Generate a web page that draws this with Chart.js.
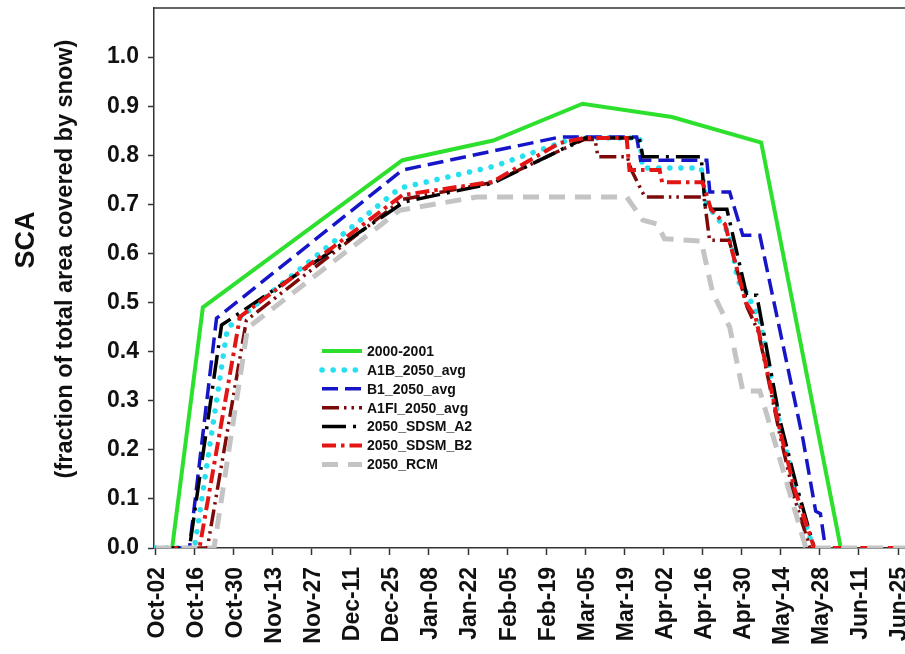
<!DOCTYPE html>
<html>
<head>
<meta charset="utf-8">
<script src="https://cdn.jsdelivr.net/npm/chart.js@4.4.1/dist/chart.umd.min.js"></script>
<style>
html,body{margin:0;padding:0;background:#fff;}
#wrap{width:905px;height:654px;position:relative;}
</style>
</head>
<body>
<div id="wrap"><canvas id="c"></canvas></div>
<script>
// ---- tick labels (x: every 14 days starting Oct-02) ----
const tickLabels = ['Oct-02','Oct-16','Oct-30','Nov-13','Nov-27','Dec-11','Dec-25','Jan-08','Jan-22','Feb-05',
  'Feb-19','Mar-05','Mar-19','Apr-02','Apr-16','Apr-30','May-14','May-28','Jun-11','Jun-25'];
const yTickValues = [0,0.1,0.2,0.3,0.4,0.5,0.6,0.7,0.8,0.9,1.0];
const yTitle = 'SCA';
const ySubTitle = '(fraction of total area covered by snow)';

// ---- series (x = days since Oct-02, y = snow covered area fraction) ----
const seriesNames = ['2000-2001','A1B_2050_avg','B1_2050_avg','A1FI_2050_avg','2050_SDSM_A2','2050_SDSM_B2','2050_RCM'];

const obsDays = [0, 6, 17, 88.5, 121, 153, 185, 217, 245.5];
const obsSCA  = [0, 0, 0.49, 0.79, 0.83, 0.905, 0.878, 0.826, 0];

const a1bDays = [0, 14, 25.8, 87.5, 121, 150, 173.5, 174.5, 195.5, 197.5, 205.7, 208.6, 211.8, 216.5, 223.7, 229, 235.5];
const a1bSCA  = [0, 0, 0.448, 0.733, 0.777, 0.835, 0.835, 0.774, 0.774, 0.70, 0.64, 0.545, 0.52, 0.464, 0.25, 0.13, 0];

const b1Days = [0, 12.2, 21.9, 88.5, 144.8, 172.4, 173.8, 197.5, 198.6, 205.7, 210.4, 216.5, 232, 236.5, 238.2, 240];
const b1SCA  = [0, 0, 0.468, 0.77, 0.837, 0.837, 0.79, 0.79, 0.725, 0.725, 0.637, 0.637, 0.22, 0.075, 0.07, 0];

const a1fiDays = [0, 18.6, 32.6, 88.5, 121, 145, 153.5, 157.5, 158.5, 169, 170.5, 175.3, 196.5, 198.5, 205.5, 212, 216, 223.7, 229, 234.5];
const a1fiSCA  = [0, 0, 0.464, 0.71, 0.745, 0.81, 0.832, 0.832, 0.797, 0.797, 0.77, 0.715, 0.715, 0.627, 0.627, 0.49, 0.44, 0.23, 0.10, 0];

const sdsmA2Days = [0, 12.2, 23.7, 89.2, 120.8, 144.8, 153.8, 173.3, 174.6, 195.5, 197, 204.7, 211.8, 215.4, 223.7, 229.5, 236];
const sdsmA2SCA  = [0, 0, 0.454, 0.705, 0.743, 0.81, 0.835, 0.835, 0.797, 0.797, 0.69, 0.69, 0.515, 0.515, 0.26, 0.13, 0];

const sdsmB2Days = [0, 15.8, 30.3, 88.5, 120.8, 144.8, 153.5, 168.8, 169.8, 180.6, 181.5, 196, 199, 204, 211.5, 215, 223.7, 229, 236, 268.5];
const sdsmB2SCA  = [0, 0, 0.471, 0.719, 0.746, 0.825, 0.835, 0.835, 0.77, 0.77, 0.745, 0.745, 0.69, 0.66, 0.50, 0.47, 0.24, 0.12, 0, 0];

const rcmDays = [0, 21, 33, 87.5, 115, 168.8, 174.6, 179.6, 182.4, 195.5, 199.6, 205.7, 210.4, 216.5, 233, 268.5];
const rcmSCA  = [0, 0, 0.448, 0.688, 0.715, 0.715, 0.668, 0.66, 0.63, 0.625, 0.52, 0.45, 0.32, 0.32, 0, 0];

const seriesDays = [obsDays, a1bDays, b1Days, a1fiDays, sdsmA2Days, sdsmB2Days, rcmDays];
const seriesSCA  = [obsSCA, a1bSCA, b1SCA, a1fiSCA, sdsmA2SCA, sdsmB2SCA, rcmSCA];

// ---- styles ----
const styles = [
  {color:'#2ee02e', width:4,   dash:[],               cap:'butt'},
  {color:'#25e0ee', width:5.5, dash:[0.1, 11],        cap:'round'},
  {color:'#1616c8', width:3.5, dash:[16, 7],          cap:'butt'},
  {color:'#7d0a0a', width:3.5, dash:[17,5,2.5,5,2.5,5], cap:'butt'},
  {color:'#000000', width:3.5, dash:[24,7,3,7],       cap:'butt'},
  {color:'#e31515', width:4,   dash:[14,5,3.5,5],     cap:'butt'},
  {color:'#c4c4c4', width:5,   dash:[16,10],          cap:'butt'}
];

const FONT = '"Liberation Sans", Arial, Helvetica, sans-serif';

const datasets = seriesNames.map((name, i) => ({
  label: name,
  data: seriesDays[i].map((d, k) => ({x: d, y: seriesSCA[i][k]})),
  borderColor: styles[i].color,
  backgroundColor: styles[i].color,
  borderWidth: styles[i].width,
  borderDash: styles[i].dash,
  borderCapStyle: styles[i].cap,
  borderJoinStyle: 'miter',
  pointRadius: 0,
  tension: 0,
  fill: false,
  order: -i
}));

const decor = {
  id: 'decor',
  afterDraw(chart) {
    const ctx = chart.ctx, a = chart.chartArea;
    ctx.save();
    // top frame line
    ctx.strokeStyle = '#333'; ctx.lineWidth = 1.5; ctx.setLineDash([]);
    ctx.beginPath(); ctx.moveTo(a.left, a.top); ctx.lineTo(a.right, a.top); ctx.stroke();
    // y titles
    ctx.fillStyle = '#111'; ctx.textAlign = 'center'; ctx.textBaseline = 'middle';
    ctx.save();
    ctx.translate(27, 240); ctx.rotate(-Math.PI/2);
    ctx.font = 'bold 27px ' + FONT; ctx.fillText(yTitle, 0, 0);
    ctx.restore();
    ctx.save();
    ctx.translate(66, 259); ctx.rotate(-Math.PI/2);
    ctx.font = 'bold 23.5px ' + FONT; ctx.fillText(ySubTitle, 0, 0);
    ctx.restore();
    // legend
    const lx = 322, ly = 351, len = 40, gap = 18.9;
    ctx.textAlign = 'left'; ctx.textBaseline = 'middle';
    ctx.font = 'bold 14px ' + FONT;
    chart.data.datasets.forEach((ds, i) => {
      const y = ly + i * gap;
      ctx.strokeStyle = ds.borderColor; ctx.lineWidth = ds.borderWidth;
      ctx.lineCap = ds.borderCapStyle; ctx.setLineDash(ds.borderDash);
      ctx.beginPath(); ctx.moveTo(lx, y); ctx.lineTo(lx + len, y); ctx.stroke();
      ctx.setLineDash([]);
      ctx.fillStyle = '#111';
      ctx.fillText(ds.label, lx + len + 5, y + 1);
    });
    ctx.restore();
  }
};

new Chart(document.getElementById('c'), {
  type: 'line',
  data: { datasets },
  options: {
    responsive: true, maintainAspectRatio: false, animation: false, devicePixelRatio: 1,
    layout: { padding: { top: 8, right: 0, left: 0, bottom: 0 } },
    plugins: { legend: { display: false }, tooltip: { enabled: false } },
    scales: {
      x: {
        type: 'linear', min: -0.5, max: 268.5,
        afterBuildTicks: ax => { ax.ticks = tickLabels.map((_, i) => ({value: i * 14})); },
        afterFit: ax => { ax.height = 106; ax.paddingLeft = 0; ax.paddingRight = 0; },
        ticks: { autoSkip: false, maxRotation: 90, minRotation: 90, padding: 12, labelOffset: 2, color: '#111',
          font: { family: FONT, size: 23, weight: 'bold' },
          callback: (v, i) => tickLabels[i] },
        grid: { drawOnChartArea: false, drawTicks: true, tickLength: 7, tickColor: '#333', tickWidth: 1.5 },
        border: { display: true, color: '#333', width: 1.5 }
      },
      y: {
        type: 'linear', min: 0, max: 1.1,
        afterBuildTicks: ax => { ax.ticks = yTickValues.map(v => ({value: v})); },
        afterFit: ax => { ax.width = 154; ax.paddingTop = 0; ax.paddingBottom = 0; },
        ticks: { padding: 9, color: '#111', font: { family: FONT, size: 23, weight: 'bold' },
          callback: v => Number(v).toFixed(1) },
        grid: { drawOnChartArea: false, drawTicks: true, tickLength: 6, tickColor: '#333', tickWidth: 1.5 },
        border: { display: true, color: '#333', width: 1.5 }
      }
    }
  },
  plugins: [decor]
});
</script>
</body>
</html>
